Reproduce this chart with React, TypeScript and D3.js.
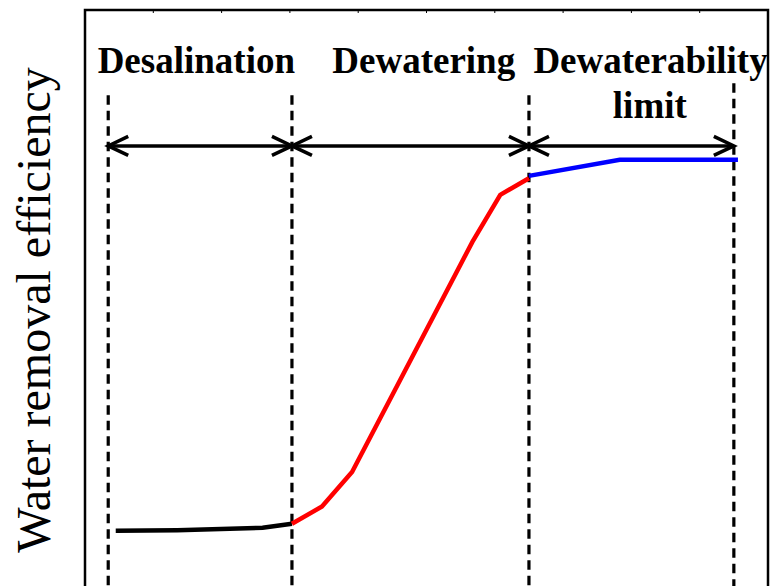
import React from "react";
import * as d3 from "d3";

// Data (x in arbitrary process units 0..10, y = water removal efficiency, arbitrary %)
const desalX = [0.45, 1.35, 2.6, 3.03];
const desalY = [9.6, 9.7, 10.1, 10.8];
const dewaterX = [3.03, 3.47, 3.91, 5.67, 6.08, 6.5];
const dewaterY = [10.8, 13.8, 19.8, 59.7, 67.9, 70.8];
const limitX = [6.5, 7.83, 9.56];
const limitY = [71.2, 74.0, 74.0];

const boundaryX = [0.34, 3.03, 6.5, 9.5];
const boundaryTopY = [85.2, 85.2, 85.2, 87.3];
const arrowY = 76.4;

const phaseLabels = ["Desalination", "Dewatering", "Dewaterability"];
const phaseLabelX = [1.63, 4.96, 8.28];
const limitLabel = "limit";
const limitLabelX = 8.27;
const topTicks = d3.range(0, 11);
const yLabel = "Water removal efficiency";

const W = 773;
const H = 586;

export default function App() {
  const x = d3.scaleLinear().domain([0, 10]).range([85, 768]);
  const y = d3.scaleLinear().domain([0, 100]).range([586, 10]);
  const line = d3
    .line<[number, number]>()
    .x((d) => x(d[0]))
    .y((d) => y(d[1]));
  const zip = (a: number[], b: number[]) =>
    a.map((v, i) => [v, b[i]] as [number, number]);

  const bold = {
    fontFamily: "'Liberation Serif', 'Times New Roman', serif",
    fontWeight: 700,
    fontSize: 37,
  };

  const arrowHead = (tipX: number, dir: number, yy: number, key: string) => (
    <path
      key={key}
      d={`M${tipX + dir * 20},${yy - 9.5} L${tipX},${yy} L${tipX + dir * 20},${yy + 9.5}`}
      fill="none"
      stroke="#000"
      strokeWidth={3.5}
      strokeLinejoin="miter"
    />
  );

  const ay = y(arrowY);
  const segments = [
    [boundaryX[0], boundaryX[1]],
    [boundaryX[1], boundaryX[2]],
    [boundaryX[2], boundaryX[3]],
  ];

  return (
    <svg
      width={W}
      height={H}
      style={{ position: "absolute", left: 0, top: 0, background: "#fff" }}
    >
      <rect x={0} y={0} width={W} height={H} fill="#fff" />
      {/* frame */}
      <rect
        x={x(0)}
        y={y(100)}
        width={x(10) - x(0)}
        height={700}
        fill="none"
        stroke="#000"
        strokeWidth={2.5}
      />
      {topTicks.map((t) => (
        <line
          key={t}
          x1={x(t)}
          x2={x(t)}
          y1={y(100)}
          y2={y(100) + 3}
          stroke="#000"
          strokeWidth={1}
        />
      ))}
      {/* dashed boundaries */}
      {boundaryX.map((bx, i) => (
        <line
          key={"b" + i}
          x1={x(bx)}
          x2={x(bx)}
          y1={y(boundaryTopY[i])}
          y2={H + 10}
          stroke="#000"
          strokeWidth={3.2}
          strokeDasharray="9.5,6"
        />
      ))}
      {/* arrows */}
      {segments.map(([a, b], i) => (
        <g key={"s" + i}>
          <line x1={x(a)} x2={x(b)} y1={ay} y2={ay} stroke="#000" strokeWidth={3.5} />
          {arrowHead(x(a), 1, ay, "l" + i)}
          {arrowHead(x(b), -1, ay, "r" + i)}
        </g>
      ))}
      {/* curves */}
      <path d={line(zip(desalX, desalY)) || ""} fill="none" stroke="#000" strokeWidth={4.5} />
      <path d={line(zip(dewaterX, dewaterY)) || ""} fill="none" stroke="#ff0000" strokeWidth={4.5} />
      <path d={line(zip(limitX, limitY)) || ""} fill="none" stroke="#0000ff" strokeWidth={4.5} />
      {/* labels */}
      {phaseLabels.map((t, i) => (
        <text key={t} x={x(phaseLabelX[i])} y={73} textAnchor="middle" style={bold}>
          {t}
        </text>
      ))}
      <text x={x(limitLabelX)} y={118} textAnchor="middle" style={bold}>
        {limitLabel}
      </text>
      <text
        transform={`translate(50,310) rotate(-90)`}
        textAnchor="middle"
        style={{
          fontFamily: "'Liberation Serif', 'Times New Roman', serif",
          fontSize: 48,
        }}
      >
        {yLabel}
      </text>
    </svg>
  );
}
